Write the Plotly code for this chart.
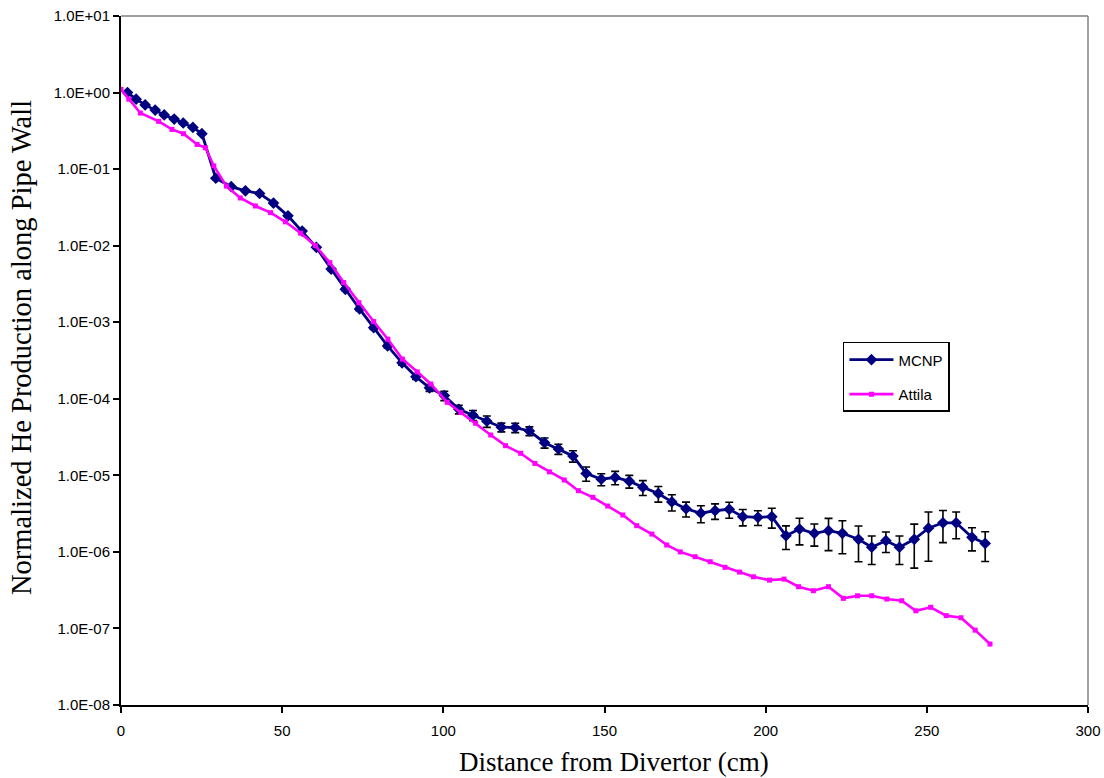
import plotly.graph_objects as go

# MCNP tally positions (cm) and normalized He production
x_mcnp = [2.0, 4.7, 7.5, 10.6, 13.4, 16.5, 19.3, 22.3, 25.1,
          29.4, 34.2, 38.6, 43.0, 47.3, 51.8, 56.2, 60.6,
          65.2, 69.6, 74.0, 78.4, 82.7, 87.2, 91.5, 95.7, 100.3,
          104.8, 109.2, 113.5, 118.0, 122.3, 126.7, 131.4, 135.7, 140.2,
          144.3, 149.0, 153.3, 157.7, 161.9, 166.7, 170.9, 175.3,
          179.9, 184.3, 188.7, 192.9, 197.6, 201.9, 206.3, 210.5, 215.1,
          219.5, 223.8, 228.8, 232.9, 237.3, 241.5, 246.1, 250.5, 255.0,
          259.1, 264.0, 268.1]
y_mcnp = [1.0, 0.82, 0.69, 0.59, 0.51, 0.45, 0.40, 0.35, 0.29,
          0.076, 0.059, 0.052, 0.048, 0.036, 0.0245, 0.0155, 0.0095,
          4.95e-3, 2.69e-3, 1.49e-3, 8.5e-4, 4.9e-4, 2.95e-4, 1.94e-4, 1.39e-4, 1.10e-4,
          7.3e-5, 6.1e-5, 5.1e-5, 4.25e-5, 4.2e-5, 3.8e-5, 2.67e-5, 2.21e-5, 1.79e-5,
          1.06e-5, 8.9e-6, 9.4e-6, 8.4e-6, 7.0e-6, 5.8e-6, 4.5e-6, 3.66e-6,
          3.2e-6, 3.45e-6, 3.6e-6, 2.88e-6, 2.83e-6, 2.88e-6, 1.63e-6, 1.99e-6, 1.75e-6,
          1.89e-6, 1.75e-6, 1.46e-6, 1.15e-6, 1.40e-6, 1.15e-6, 1.46e-6, 2.04e-6, 2.4e-6,
          2.4e-6, 1.55e-6, 1.29e-6]
# relative statistical error of each MCNP tally
rel_err_mcnp = [0.01, 0.01, 0.01, 0.01, 0.01, 0.01, 0.01, 0.01, 0.01,
                0.02, 0.02, 0.02, 0.02, 0.02, 0.02, 0.02, 0.02,
                0.04, 0.04, 0.05, 0.05, 0.06, 0.07, 0.08, 0.10, 0.14,
                0.13, 0.15, 0.17, 0.13, 0.14, 0.13, 0.15, 0.15, 0.17,
                0.21, 0.18, 0.20, 0.19, 0.22, 0.23, 0.24, 0.22,
                0.25, 0.23, 0.235, 0.24, 0.22, 0.29, 0.34, 0.38, 0.32,
                0.45, 0.46, 0.49, 0.405, 0.30, 0.405, 0.58, 0.63, 0.45,
                0.38, 0.335, 0.42]

# Attila deterministic result
x_att = [0, 2.4, 6.0, 11.7, 15.8, 19.4, 23.6, 26.2, 28.8, 32.7, 37.0, 41.7,
         46.4, 51.0, 55.7, 60.3, 64.8, 69.1, 73.8, 78.4, 82.8, 87.3, 91.9,
         96.1, 101.2, 105.4, 110.0, 114.7, 119.3, 124.0, 128.4, 132.9, 137.5,
         141.9, 146.4, 151.0, 155.7, 160.0, 164.7, 169.3, 173.5, 178.1, 182.8,
         187.4, 191.9, 196.2, 201.2, 205.7, 210.2, 214.8, 219.5, 224.1, 228.5,
         232.9, 237.6, 242.2, 246.6, 251.2, 256.0, 260.6, 265.0, 269.6]
y_att = [1.1, 0.82, 0.54, 0.42, 0.33, 0.29, 0.21, 0.19, 0.11, 0.060, 0.042, 0.033,
         0.027, 0.0205, 0.0146, 0.0100, 6.0e-3, 3.3e-3, 1.8e-3, 1.02e-3, 6.0e-4, 3.3e-4, 2.25e-4,
         1.56e-4, 9.0e-5, 6.6e-5, 4.8e-5, 3.36e-5, 2.44e-5, 1.94e-5, 1.43e-5, 1.11e-5, 8.7e-6,
         6.3e-6, 5.16e-6, 3.97e-6, 3.03e-6, 2.2e-6, 1.71e-6, 1.23e-6, 1.0e-6, 8.65e-7, 7.44e-7,
         6.28e-7, 5.45e-7, 4.73e-7, 4.28e-7, 4.41e-7, 3.51e-7, 3.11e-7, 3.51e-7, 2.47e-7, 2.67e-7,
         2.67e-7, 2.42e-7, 2.3e-7, 1.70e-7, 1.89e-7, 1.47e-7, 1.38e-7, 9.5e-8, 6.25e-8]

y_tick_vals = [1e1, 1e0, 1e-1, 1e-2, 1e-3, 1e-4, 1e-5, 1e-6, 1e-7, 1e-8]
y_tick_text = ["1.0E+01", "1.0E+00", "1.0E-01", "1.0E-02", "1.0E-03",
               "1.0E-04", "1.0E-05", "1.0E-06", "1.0E-07", "1.0E-08"]
x_tick_vals = [0, 50, 100, 150, 200, 250, 300]

err_abs = [v * r for v, r in zip(y_mcnp, rel_err_mcnp)]

fig = go.Figure()
fig.add_trace(go.Scatter(
    x=x_mcnp, y=y_mcnp, name="MCNP", mode="lines+markers", legendgroup="mcnp",
    line=dict(color="#000080", width=2.8),
    marker=dict(symbol="diamond", size=9, color="#000080"),
    error_y=dict(type="data", array=err_abs, visible=True,
                 color="black", thickness=1.6, width=4),
))
fig.add_trace(go.Scatter(
    x=x_att, y=y_att, name="Attila", mode="lines+markers", legendgroup="attila",
    line=dict(color="#FF00FF", width=2.6),
    marker=dict(symbol="square", size=5, color="#FF00FF"),
))

axis_font = dict(family="Liberation Sans, Arial, sans-serif", size=15, color="black")
x_title_font = dict(family="Liberation Serif, Times New Roman, serif", size=27, color="black")
y_title_font = dict(family="Liberation Serif, Times New Roman, serif", size=28.5, color="black")

fig.update_layout(
    width=1104, height=778,
    margin=dict(l=121, r=16, t=16, b=73, autoexpand=False),
    paper_bgcolor="white", plot_bgcolor="white",
    showlegend=True,
    legend=dict(x=0.7466, y=0.527, xanchor="left", yanchor="top",
                bordercolor="black", borderwidth=1.5, bgcolor="white",
                font=dict(family="Liberation Sans, Arial, sans-serif", size=15, color="black"),
                tracegroupgap=12, itemwidth=44),
    xaxis=dict(range=[0, 300], tickvals=x_tick_vals, ticks="outside", ticklen=6,
               tickcolor="black", tickwidth=1.5, showline=True, linecolor="black",
               linewidth=2, showgrid=False, zeroline=False, tickfont=axis_font,
               automargin=False, ticklabelstandoff=5),
    yaxis=dict(type="log", range=[-8, 1], tickvals=y_tick_vals, ticktext=y_tick_text,
               ticks="outside", ticklen=6, tickcolor="black", tickwidth=1.5,
               showline=True, linecolor="black", linewidth=2, showgrid=False,
               zeroline=False, tickfont=axis_font, automargin=False),
)

# axis titles
fig.add_annotation(text="Distance from Divertor (cm)", xref="paper", yref="paper",
                   x=0.51, y=-0.0827, xanchor="center", yanchor="middle",
                   showarrow=False, font=x_title_font)
fig.add_annotation(text="Normalized He Production along Pipe Wall", xref="paper", yref="paper",
                   x=-0.1024, y=0.5196, xanchor="center", yanchor="middle", textangle=-90,
                   showarrow=False, font=y_title_font)

# light grey frame on the top and right of the plotting area
fig.add_shape(type="line", xref="paper", yref="paper", x0=0, x1=1, y0=1, y1=1,
              line=dict(color="#808080", width=1.5))
fig.add_shape(type="line", xref="paper", yref="paper", x0=1, x1=1, y0=0, y1=1,
              line=dict(color="#808080", width=1.5))

fig.write_html("out.html")
